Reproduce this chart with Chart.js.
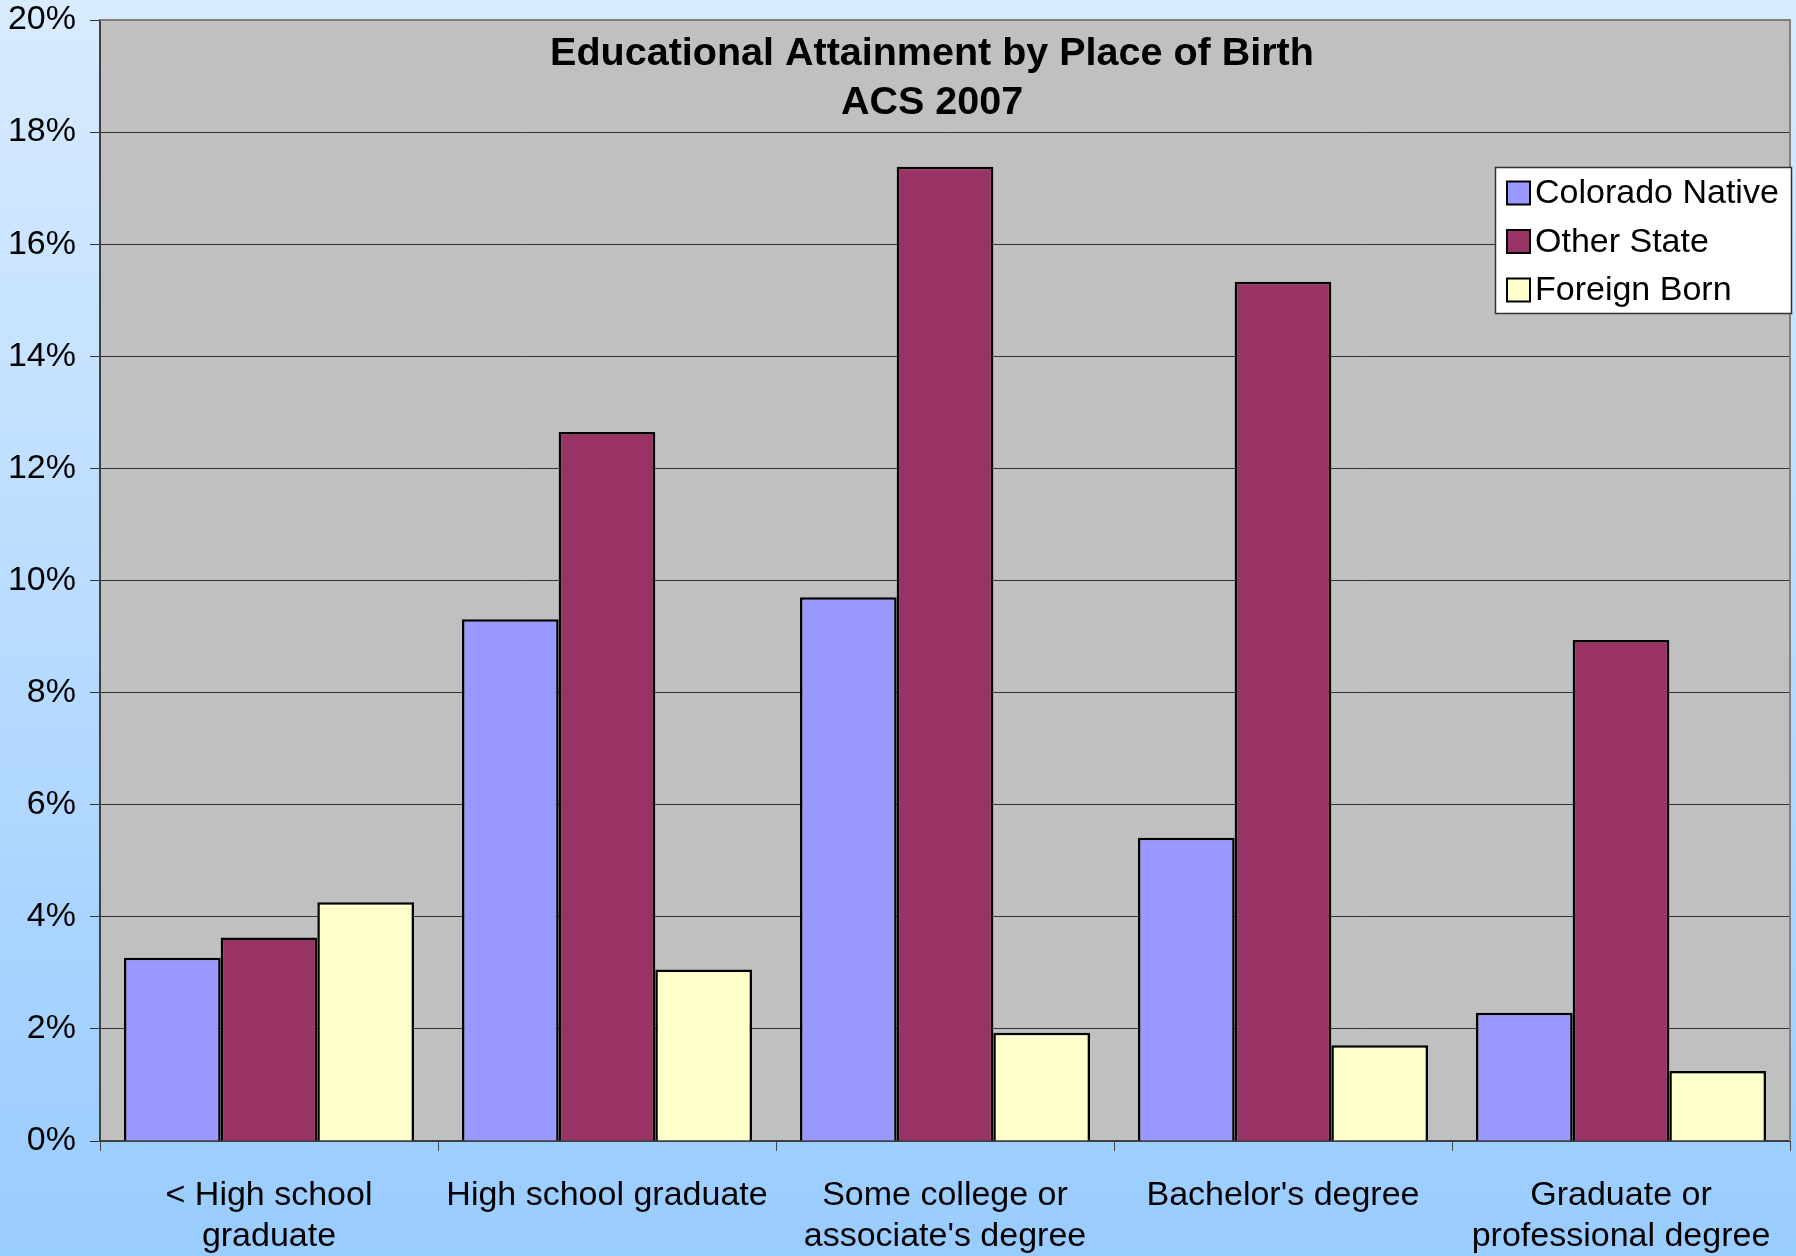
<!DOCTYPE html>
<html><head><meta charset="utf-8">
<script src="https://cdn.jsdelivr.net/npm/chart.js@4/dist/chart.umd.min.js"></script>
<style>
html,body{margin:0;padding:0;overflow:hidden;background:#9fcfff}
#wrap{width:1796px;height:1256px;position:relative}
canvas{display:block}
</style></head><body>
<div id="wrap"><canvas id="c" width="1796" height="1256"></canvas></div>
<script>
// ---- data ----
const categories = [["< High school", "graduate"], "High school graduate", ["Some college or", "associate's degree"], "Bachelor's degree", ["Graduate or", "professional degree"]];
const seriesNames = ["Colorado Native", "Other State", "Foreign Born"];
const coloradoNative = [3.27, 9.31, 9.70, 5.41, 2.29];
const otherState = [3.63, 12.65, 17.38, 15.33, 8.94];
const foreignBorn = [4.26, 3.06, 1.93, 1.71, 1.25];
const yTickValues = [0, 2, 4, 6, 8, 10, 12, 14, 16, 18, 20];
const titleLines = ["Educational Attainment by Place of Birth", "ACS 2007"];

const seriesColors = ["#9999ff", "#993366", "#ffffcc"];
const FONT = '"Liberation Sans", Arial, sans-serif';

const bgPlugin = {
  id: 'bg',
  beforeDraw(chart) {
    const ctx = chart.ctx, ca = chart.chartArea;
    ctx.save();
    const g = ctx.createLinearGradient(0, 0, 0, chart.height);
    g.addColorStop(0, '#d8ebff');
    g.addColorStop(1, '#99ccff');
    ctx.fillStyle = g;
    ctx.fillRect(0, 0, chart.width, chart.height);
    ctx.fillStyle = '#c0c0c0';
    ctx.fillRect(ca.left, ca.top, ca.right - ca.left, ca.bottom - ca.top);
    ctx.restore();
  },
  afterDatasetsDraw(chart) {
    const ctx = chart.ctx, ca = chart.chartArea;
    ctx.save();
    ctx.strokeStyle = '#808080';
    ctx.lineWidth = 2;
    ctx.beginPath();
    ctx.moveTo(ca.left, ca.top);
    ctx.lineTo(ca.right, ca.top);
    ctx.lineTo(ca.right, ca.bottom);
    ctx.stroke();
    ctx.restore();
  }
};

const titleLegendPlugin = {
  id: 'titleLegend',
  afterDraw(chart) {
    const ctx = chart.ctx, ca = chart.chartArea;
    ctx.save();
    // title inside plot area
    ctx.fillStyle = '#000';
    ctx.font = 'bold 39.5px ' + FONT;
    ctx.textAlign = 'center';
    ctx.textBaseline = 'middle';
    const cx = (ca.left + ca.right) / 2 - 13;
    titleLines.forEach((t, i) => ctx.fillText(t, cx, ca.top + 34 + i * 49));
    // legend box
    const bx = ca.right - 295, by = ca.top + 147, bw = 297, bh = 147;
    ctx.fillStyle = '#ffffff';
    ctx.fillRect(bx, by, bw, bh);
    ctx.strokeStyle = '#333333';
    ctx.lineWidth = 1.5;
    ctx.strokeRect(bx + 0.5, by + 0.5, bw - 1, bh - 1);
    ctx.font = '34px ' + FONT;
    ctx.textAlign = 'left';
    chart.data.datasets.forEach((ds, i) => {
      const yc = by + 26 + i * 48.5;
      ctx.fillStyle = ds.backgroundColor;
      ctx.fillRect(bx + 12, yc - 11.5, 23, 23);
      ctx.strokeStyle = '#000';
      ctx.lineWidth = 2;
      ctx.strokeRect(bx + 12, yc - 11.5, 23, 23);
      ctx.fillStyle = '#000';
      ctx.fillText(ds.label, bx + 40, yc + 1);
    });
    ctx.restore();
  }
};

new Chart(document.getElementById('c'), {
  type: 'bar',
  data: {
    labels: categories,
    datasets: [
      { label: seriesNames[0], data: coloradoNative, backgroundColor: seriesColors[0] },
      { label: seriesNames[1], data: otherState, backgroundColor: seriesColors[1] },
      { label: seriesNames[2], data: foreignBorn, backgroundColor: seriesColors[2] }
    ]
  },
  options: {
    responsive: false,
    animation: false,
    devicePixelRatio: 1,
    layout: { padding: { top: 20, right: 6, left: 0, bottom: 0 } },
    datasets: {
      bar: { borderColor: '#000', borderWidth: 2.5, categoryPercentage: 0.858, barPercentage: 1.0 }
    },
    plugins: {
      legend: { display: false },
      title: { display: false },
      tooltip: { enabled: false }
    },
    scales: {
      x: {
        grid: { offset: true, drawOnChartArea: false, drawTicks: true, tickLength: 10, color: '#444', lineWidth: 1 },
        border: { display: true, color: '#404040', width: 2 },
        ticks: { color: '#000', font: { family: FONT, size: 34, lineHeight: 1.2 }, maxRotation: 0, autoSkip: false, padding: 24 },
        afterFit(s) { s.height = 115; s.paddingLeft = 0; s.paddingRight = 0; }
      },
      y: {
        min: 0, max: 20,
        afterBuildTicks(s) { s.ticks = yTickValues.map(v => ({ value: v })); },
        grid: { color: '#333', lineWidth: 1, drawTicks: true, tickLength: 10 },
        border: { display: true, color: '#404040', width: 2 },
        ticks: { color: '#000', font: { family: FONT, size: 34 }, padding: 14, callback: v => v + '%' },
        afterFit(s) { s.width = 100; s.paddingTop = 0; s.paddingBottom = 0; }
      }
    }
  },
  plugins: [bgPlugin, titleLegendPlugin]
});
</script>
</body></html>
